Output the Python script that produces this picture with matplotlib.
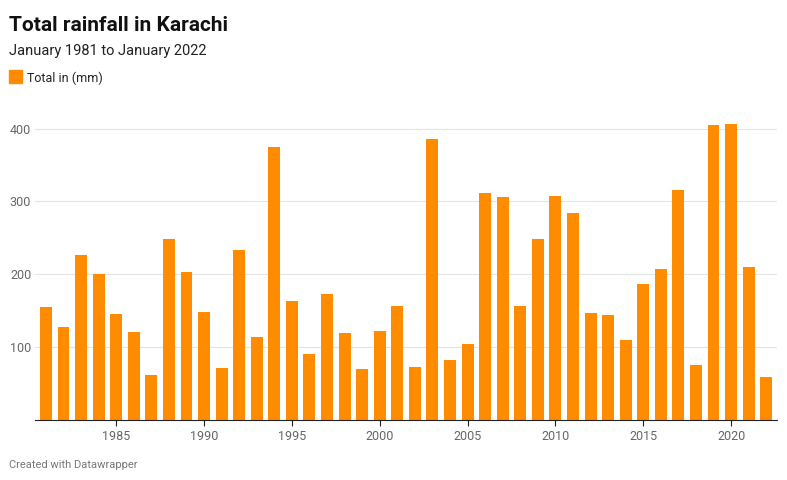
import matplotlib.pyplot as plt

years = list(range(1981, 2023))
rainfall = [155, 127, 227, 200, 145, 121, 62, 249, 203, 148, 71, 234, 114, 375,
            163, 90, 173, 119, 70, 122, 156, 73, 386, 82, 104, 311, 306, 156,
            249, 307, 284, 147, 144, 110, 187, 207, 316, 75, 405, 407, 210, 59]
tick_years = [1985, 1990, 1995, 2000, 2005, 2010, 2015, 2020]
y_ticks = [100, 200, 300, 400]

plt.rcParams['font.family'] = ['Roboto', 'DejaVu Sans']
fig = plt.figure(figsize=(7.87, 4.8), dpi=100)
ax = fig.add_axes([0.045, 0.125, 0.942, 0.698])

ax.bar(years, rainfall, width=0.68, color='#ff8c00', zorder=2)
ax.set_xlim(1980.4, 2022.6)
ax.set_ylim(0, 460)
ax.set_yticks(y_ticks)
ax.set_xticks(tick_years)
ax.grid(axis='y', color='#e3e3e3', linewidth=0.8, zorder=0)
for s in ['top', 'right', 'left']:
    ax.spines[s].set_visible(False)
ax.spines['bottom'].set_color('#222222')
ax.tick_params(axis='y', length=0, labelsize=9, colors='#666666', pad=3)
ax.tick_params(axis='x', length=4, labelsize=9, colors='#666666', color='#222222')

fig.text(0.012, 0.935, 'Total rainfall in Karachi', fontsize=15, fontweight='bold', color='#111111')
fig.text(0.012, 0.885, 'January 1981 to January 2022', fontsize=10.5, color='#222222')
fig.patches.append(plt.Rectangle((0.012, 0.828), 0.016, 0.026, color='#ff8c00', transform=fig.transFigure))
fig.text(0.034, 0.83, 'Total in (mm)', fontsize=9, color='#222222')
fig.text(0.012, 0.025, 'Created with Datawrapper', fontsize=8, color='#777777')

fig.savefig('out.png', dpi=100)
